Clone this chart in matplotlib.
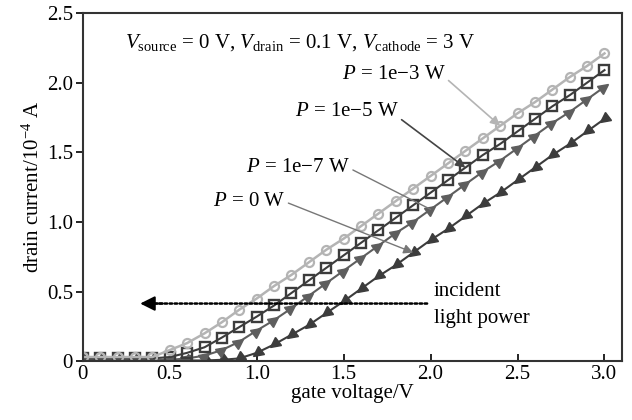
import matplotlib
matplotlib.use("Agg")
import matplotlib.pyplot as plt
from matplotlib.markers import MarkerStyle
from matplotlib.transforms import Affine2D

plt.rcParams['font.family'] = ['Liberation Serif', 'DejaVu Serif']
plt.rcParams['mathtext.fontset'] = 'custom'
plt.rcParams['mathtext.rm'] = 'Liberation Serif'
plt.rcParams['mathtext.it'] = 'Liberation Serif:italic'

gate_v = [0.0, 0.1, 0.2, 0.3, 0.4, 0.5, 0.6, 0.7, 0.8, 0.9, 1.0,
          1.1, 1.2, 1.3, 1.4, 1.5, 1.6, 1.7, 1.8, 1.9, 2.0,
          2.1, 2.2, 2.3, 2.4, 2.5, 2.6, 2.7, 2.8, 2.9, 3.0]

i_p1e3 = [0.03, 0.03, 0.03, 0.03, 0.03, 0.08, 0.13, 0.20, 0.28, 0.37, 0.45,
          0.54, 0.62, 0.71, 0.80, 0.88, 0.97, 1.06, 1.15, 1.24, 1.33,
          1.42, 1.51, 1.60, 1.69, 1.78, 1.86, 1.95, 2.04, 2.12, 2.21]
i_p1e5 = [0.02, 0.02, 0.02, 0.02, 0.02, 0.03, 0.06, 0.10, 0.17, 0.245, 0.32,
          0.40, 0.49, 0.58, 0.67, 0.76, 0.85, 0.94, 1.03, 1.12, 1.21,
          1.30, 1.39, 1.48, 1.56, 1.65, 1.74, 1.83, 1.91, 2.00, 2.09]
i_p1e7 = [0.01, 0.01, 0.01, 0.01, 0.01, 0.01, 0.02, 0.04, 0.08, 0.14, 0.22,
          0.295, 0.38, 0.47, 0.56, 0.65, 0.74, 0.83, 0.92, 1.00, 1.09,
          1.18, 1.27, 1.36, 1.44, 1.53, 1.62, 1.71, 1.79, 1.88, 1.97]
i_p0 = [0.005, 0.005, 0.005, 0.005, 0.005, 0.005, 0.005, 0.005, 0.01, 0.02, 0.06,
        0.12, 0.19, 0.26, 0.345, 0.43, 0.52, 0.61, 0.69, 0.78, 0.87,
        0.95, 1.04, 1.13, 1.21, 1.30, 1.39, 1.48, 1.56, 1.65, 1.74]

x_ticks = [0, 0.5, 1.0, 1.5, 2.0, 2.5, 3.0]
x_tick_labels = ['0', '0.5', '1.0', '1.5', '2.0', '2.5', '3.0']
y_ticks = [0, 0.5, 1.0, 1.5, 2.0, 2.5]
y_tick_labels = ['0', '0.5', '1.0', '1.5', '2.0', '2.5']

fig = plt.figure(figsize=(6.32, 4.2), dpi=100)
ax = fig.add_axes([0.131, 0.140, 0.853, 0.829])

up_tri = MarkerStyle('>', transform=Affine2D().rotate_deg(35))
down_tri = MarkerStyle('<', transform=Affine2D().rotate_deg(35))

ax.plot(gate_v, i_p0, color='#3c3c3c', lw=1.5, marker=down_tri, ms=7.5,
        mfc='#3c3c3c', mec='#3c3c3c')
ax.plot(gate_v, i_p1e7, color='#5e5e5e', lw=1.5, marker=up_tri, ms=7.5,
        mfc='#5e5e5e', mec='#5e5e5e')
ax.plot(gate_v, i_p1e5, color='#3c3c3c', lw=1.5, marker='s', ms=6.5,
        mfc='none', mec='#3c3c3c', mew=1.7)
ax.plot(gate_v, i_p1e3, color='#b4b4b4', lw=1.8, marker='o', ms=6.5,
        mfc='none', mec='#b4b4b4', mew=1.6)

ax.set_xlim(0, 3.1)
ax.set_ylim(0, 2.5)
ax.set_xticks(x_ticks)
ax.set_xticklabels(x_tick_labels)
ax.set_yticks(y_ticks)
ax.set_yticklabels(y_tick_labels)
ax.tick_params(axis='x', direction='in', length=5, width=1.2, labelsize=15, pad=3)
ax.tick_params(axis='y', direction='out', length=5, width=1.2, labelsize=15, pad=2)
for s in ax.spines.values():
    s.set_linewidth(1.5)
    s.set_color('#333333')

ax.set_xlabel('gate voltage/V', fontsize=15, labelpad=0)
ax.set_ylabel(r'drain current/10$^{-4}$ A', fontsize=15, labelpad=2)

ax.text(0.24, 2.29,
        r'$V_\mathrm{source}$ = 0 V, $V_\mathrm{drain}$ = 0.1 V, $V_\mathrm{cathode}$ = 3 V',
        fontsize=15, va='center', ha='left')

ax.annotate(r'$P$ = 1e−3 W', xy=(2.4, 1.69), xytext=(1.49, 2.06),
            fontsize=15, ha='left', va='center',
            arrowprops=dict(arrowstyle='-|>', color='#b4b4b4', lw=1.2,
                            mutation_scale=14, shrinkA=0, shrinkB=0,
                            relpos=(1.0, 0.3)))
ax.annotate(r'$P$ = 1e−5 W', xy=(2.2, 1.39), xytext=(1.22, 1.79),
            fontsize=15, ha='left', va='center',
            arrowprops=dict(arrowstyle='-|>', color='#444444', lw=1.2,
                            mutation_scale=14, shrinkA=0, shrinkB=0,
                            relpos=(1.0, 0.2)))
ax.annotate(r'$P$ = 1e−7 W', xy=(2.0, 1.09), xytext=(0.94, 1.39),
            fontsize=15, ha='left', va='center',
            arrowprops=dict(arrowstyle='-', color='#777777', lw=1.0,
                            shrinkA=0, shrinkB=0, relpos=(1.0, 0.45)))
ax.annotate(r'$P$ = 0 W', xy=(1.9, 0.78), xytext=(0.75, 1.15),
            fontsize=15, ha='left', va='center',
            arrowprops=dict(arrowstyle='-|>', color='#777777', lw=1.0,
                            mutation_scale=14, shrinkA=0, shrinkB=0,
                            relpos=(1.0, 0.45)))

# incident light power arrow: dotted shaft + solid head
ax.annotate('', xy=(0.40, 0.414), xytext=(1.98, 0.414),
            arrowprops=dict(arrowstyle='-', color='black', lw=1.8,
                            linestyle=(0, (1.0, 1.0)), shrinkA=0, shrinkB=0))
ax.annotate('', xy=(0.33, 0.414), xytext=(0.46, 0.414),
            arrowprops=dict(arrowstyle='-|>', color='black', lw=1.5,
                            mutation_scale=22, shrinkA=0, shrinkB=0))
ax.text(2.02, 0.50, 'incident', fontsize=15, ha='left', va='center')
ax.text(2.02, 0.31, 'light power', fontsize=15, ha='left', va='center')

plt.savefig('out.png', dpi=100)
